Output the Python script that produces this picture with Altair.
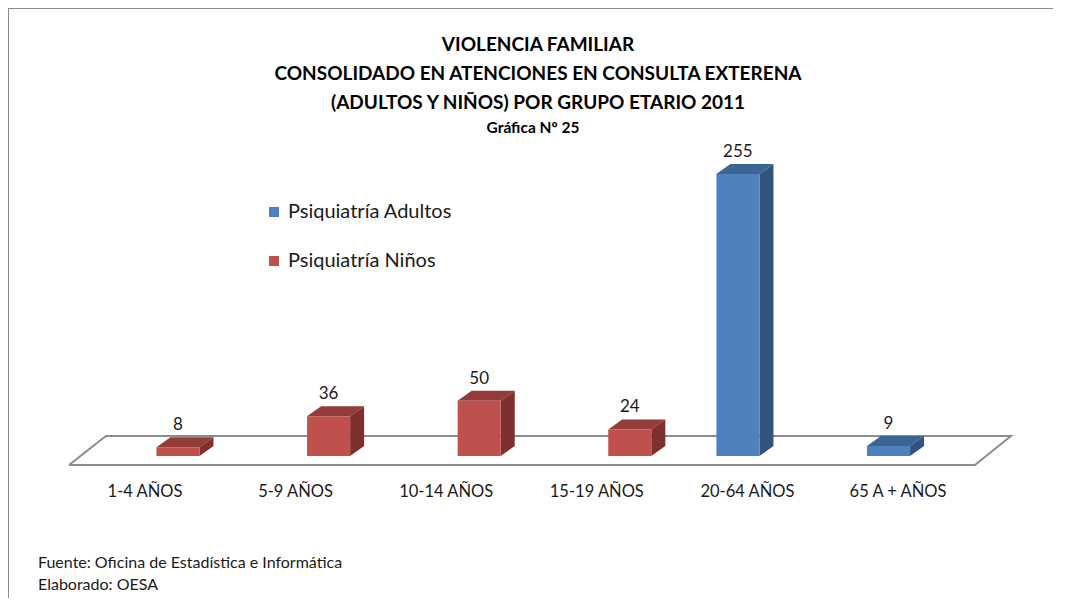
import altair as alt
import pandas as pd

# ---------------- data ----------------
categorias = ["1-4 AÑOS", "5-9 AÑOS", "10-14 AÑOS", "15-19 AÑOS", "20-64 AÑOS", "65 A + AÑOS"]
adultos = [None, None, None, None, 255, 9]
ninos = [8, 36, 50, 24, None, None]
series = ["Psiquiatría Adultos", "Psiquiatría Niños"]

titulo = ["VIOLENCIA FAMILIAR",
          "CONSOLIDADO EN ATENCIONES EN CONSULTA EXTERENA",
          "(ADULTOS Y NIÑOS) POR GRUPO ETARIO 2011"]
subtitulo = "Gráfica Nº 25"
fuente = ["Fuente: Oficina de Estadística e Informática", "Elaborado: OESA"]

# ---------------- style / layout ----------------
W, H = 1045, 590
FONT = "Lato"
SLOT = {series[0]: (-0.206, 0.080), series[1]: (0.076, 0.362)}
DX = 0.093   # depth of the 3D boxes (x units)
DY = 9.04    # depth of the 3D boxes (value units)
FRONT = {series[0]: "#4F81BD", series[1]: "#C0504D"}
TOP = {series[0]: "#3C6594", series[1]: "#933D3B"}
SIDE = {series[0]: "#32537C", series[1]: "#7D302E"}
FLOOR_FRONT, FLOOR_BACK = -8.14, 18.08
FLOOR_X = (-0.505, 5.511, 5.750, -0.259)

xs = alt.Scale(domain=[-0.9097, 6.0292], nice=False, zero=False)
ys = alt.Scale(domain=[-128.39, 405.06], nice=False, zero=False)

rows = []
for i, c in enumerate(categorias):
    for s, vals in zip(series, [adultos, ninos]):
        v = vals[i]
        if v is None:
            continue
        a, b = SLOT[s]
        rows.append(dict(cat=c, i=i, serie=s, v=v, x0=i + a, x1=i + b, xm=i + (a + b) / 2))
bars = pd.DataFrame(rows)

faces = []
for k, r in enumerate(rows):
    s, v, x0, x1 = r["serie"], r["v"], r["x0"], r["x1"]
    fid = f"top{k}"
    for (px, lo, hi) in [(x0, v, v), (x0 + DX, v, v + DY), (x1, v, v + DY), (x1 + DX, v + DY, v + DY)]:
        faces.append(dict(fid=fid, x=px, lo=lo, hi=hi, fill=TOP[s]))
    fid = f"side{k}"
    for (px, lo, hi) in [(x1, 0, v), (x1 + DX, DY, v + DY)]:
        faces.append(dict(fid=fid, x=px, lo=lo, hi=hi, fill=SIDE[s]))
faces = pd.DataFrame(faces)

floor = pd.DataFrame({
    "x": [FLOOR_X[0], FLOOR_X[1], FLOOR_X[2], FLOOR_X[3], FLOOR_X[0]],
    "y": [FLOOR_FRONT, FLOOR_FRONT, FLOOR_BACK, FLOOR_BACK, FLOOR_FRONT],
    "o": [0, 1, 2, 3, 4],
})

cats = pd.DataFrame({"cat": categorias, "i": list(range(len(categorias)))})

# ---------------- layers ----------------
floor_l = alt.Chart(floor).mark_line(color="#8C8C8C", strokeWidth=2).encode(
    x=alt.X("x:Q", scale=xs, axis=None),
    y=alt.Y("y:Q", scale=ys, axis=None),
    order="o:Q",
)

faces_l = alt.Chart(faces).mark_area(orient="vertical", interpolate="linear").encode(
    x=alt.X("x:Q", scale=xs, axis=None),
    y=alt.Y("lo:Q", scale=ys, axis=None, stack=None),
    y2="hi:Q",
    detail="fid:N",
    color=alt.Color("fill:N", scale=None),
)

front_l = alt.Chart(bars).mark_rect().encode(
    x=alt.X("x0:Q", scale=xs, axis=None),
    x2="x1:Q",
    y=alt.Y("v:Q", scale=ys, axis=None),
    y2=alt.datum(0),
    color=alt.Color("serie:N",
                    scale=alt.Scale(domain=series, range=[FRONT[s] for s in series]),
                    legend=alt.Legend(orient="none", legendX=256, legendY=194, title=None,
                                      symbolType="square", symbolSize=100, symbolStrokeWidth=0,
                                      labelFont=FONT, labelFontSize=20, labelColor="#1a1a1a",
                                      labelLimit=400, labelOffset=4, rowPadding=29, padding=0)),
)

vals_l = alt.Chart(bars).mark_text(font=FONT, fontSize=17, dy=-17, baseline="alphabetic",
                                   color="#1a1a1a").encode(
    x=alt.X("xm:Q", scale=xs, axis=None),
    y=alt.Y("v:Q", scale=ys, axis=None),
    text="v:Q",
)

cats_l = alt.Chart(cats).mark_text(font=FONT, fontSize=16.5, baseline="middle", color="#1a1a1a").encode(
    x=alt.X("i:Q", scale=xs, axis=None),
    y=alt.value(484),
    text="cat:N",
)

layers = [floor_l, faces_l, front_l, vals_l, cats_l]

for k, line in enumerate(titulo):
    layers.append(alt.Chart(pd.DataFrame({"t": [line]})).mark_text(
        font=FONT, fontSize=19, fontWeight="bold", baseline="middle", color="black").encode(
        x=alt.value(530), y=alt.value(37 + 29 * k), text="t:N"))
layers.append(alt.Chart(pd.DataFrame({"t": [subtitulo]})).mark_text(
    font=FONT, fontSize=15.5, fontWeight="bold", baseline="middle", color="black").encode(
    x=alt.value(525), y=alt.value(120), text="t:N"))
for k, line in enumerate(fuente):
    layers.append(alt.Chart(pd.DataFrame({"t": [line]})).mark_text(
        font=FONT, fontSize=16, align="left", baseline="middle", color="#1a1a1a").encode(
        x=alt.value(30), y=alt.value(555 + 22 * k), text="t:N"))

# frame (top and left edges)
layers.append(alt.Chart(pd.DataFrame({"a": [0]})).mark_rule(color="#8A8A8A", strokeWidth=2).encode(
    x=alt.value(0), x2=alt.value(W), y=alt.value(0)))
layers.append(alt.Chart(pd.DataFrame({"a": [0]})).mark_rule(color="#8A8A8A", strokeWidth=2).encode(
    x=alt.value(0), y=alt.value(0), y2=alt.value(H)))

chart = alt.layer(*layers).resolve_scale(color="independent").properties(
    width=W, height=H, padding=0, autosize=alt.AutoSizeParams(type="none"),
    background="white",
).configure_view(stroke=None)

chart.save("out.html", embed_options={"renderer": "svg", "actions": False})
